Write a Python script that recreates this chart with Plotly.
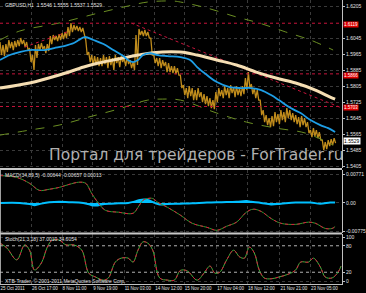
import plotly.graph_objects as go

# ---------------- data ----------------
date_ticks = [0, 32, 63, 94, 126, 157, 187, 220, 251, 284, 315]
date_labels = ["25 Oct 2011", "26 Oct 17:00", "8 Nov 11:00", "9 Nov 19:00", "11 Nov 03:00",
               "14 Nov 12:00", "15 Nov 20:00", "17 Nov 04:00", "18 Nov 12:00", "21 Nov 21:00",
               "23 Nov 05:00"]

# price bars (one every 3 bars, starting at bar 0)
candle_high = [1.6025, 1.6010, 1.6015, 1.6035, 1.6025, 1.6030, 1.6035, 1.6045, 1.6035, 1.6025,
               1.5995, 1.5960, 1.6010, 1.6015, 1.6020, 1.6005, 1.6015, 1.6055, 1.6060, 1.6055,
               1.6065, 1.6070, 1.6075, 1.6100, 1.6120, 1.6110, 1.6105, 1.6100, 1.6095, 1.6035,
               1.5975, 1.5960, 1.5955, 1.5950, 1.5945, 1.5960, 1.5950, 1.5955, 1.5945, 1.5960,
               1.5950, 1.5955, 1.5945, 1.5950, 1.5935, 1.5925, 1.6060, 1.6090, 1.6080, 1.6085,
               1.6075, 1.6045, 1.5960, 1.5945, 1.5945, 1.5935, 1.5925, 1.5920, 1.5905, 1.5905,
               1.5895, 1.5860, 1.5810, 1.5795, 1.5805, 1.5795, 1.5785, 1.5795, 1.5775, 1.5765,
               1.5755, 1.5745, 1.5735, 1.5775, 1.5795, 1.5785, 1.5805, 1.5795, 1.5810, 1.5800,
               1.5805, 1.5795, 1.5805, 1.5845, 1.5875, 1.5815, 1.5795, 1.5785, 1.5735, 1.5685,
               1.5660, 1.5645, 1.5655, 1.5675, 1.5665, 1.5685, 1.5675, 1.5695, 1.5685, 1.5670,
               1.5660, 1.5650, 1.5655, 1.5645, 1.5625, 1.5585, 1.5595, 1.5585, 1.5575, 1.5535,
               1.5525, 1.5535, 1.5540, 1.5545]
candle_low = [1.5960, 1.5955, 1.5975, 1.5995, 1.5985, 1.6000, 1.6005, 1.6015, 1.6000, 1.5985,
              1.5925, 1.5885, 1.5945, 1.5985, 1.5990, 1.5970, 1.5980, 1.6015, 1.6035, 1.6030,
              1.6035, 1.6040, 1.6045, 1.6055, 1.6075, 1.6085, 1.6080, 1.6075, 1.6060, 1.5960,
              1.5925, 1.5910, 1.5910, 1.5905, 1.5905, 1.5915, 1.5895, 1.5910, 1.5885, 1.5920,
              1.5900, 1.5925, 1.5905, 1.5915, 1.5895, 1.5885, 1.5910, 1.6060, 1.6055, 1.6055,
              1.6045, 1.5960, 1.5920, 1.5905, 1.5895, 1.5905, 1.5875, 1.5875, 1.5870, 1.5865,
              1.5860, 1.5795, 1.5760, 1.5745, 1.5755, 1.5735, 1.5735, 1.5750, 1.5725, 1.5715,
              1.5705, 1.5695, 1.5690, 1.5725, 1.5755, 1.5745, 1.5760, 1.5745, 1.5770, 1.5750,
              1.5760, 1.5755, 1.5765, 1.5785, 1.5795, 1.5765, 1.5745, 1.5735, 1.5660, 1.5625,
              1.5610, 1.5600, 1.5605, 1.5625, 1.5615, 1.5635, 1.5625, 1.5645, 1.5635, 1.5625,
              1.5615, 1.5600, 1.5610, 1.5600, 1.5570, 1.5550, 1.5555, 1.5545, 1.5535, 1.5485,
              1.5490, 1.5505, 1.5510, 1.5520]

ma_fast_x = [0, 10, 20, 30, 45, 55, 65, 75, 80, 86, 95, 105, 115, 125, 130, 135, 140, 145, 152,
             160, 170, 183, 193, 200, 210, 220, 233, 245, 255, 265, 275, 283, 295, 305, 315, 325,
             333, 340]
ma_fast = [1.5935, 1.5960, 1.5975, 1.5985, 1.5985, 1.5995, 1.6005, 1.6020, 1.6035, 1.6050,
           1.6035, 1.6015, 1.5985, 1.5955, 1.5935, 1.5925, 1.5935, 1.5960, 1.5970, 1.5960,
           1.5955, 1.5950, 1.5935, 1.5900, 1.5860, 1.5825, 1.5800, 1.5795, 1.5795, 1.5785,
           1.5760, 1.5735, 1.5695, 1.5670, 1.5635, 1.5610, 1.5595, 1.5575]

ma_slow_x = [0, 30, 60, 85, 100, 120, 140, 155, 183, 200, 220, 240, 260, 280, 300, 320, 335, 340]
ma_slow = [1.5795, 1.5820, 1.5860, 1.5900, 1.5920, 1.5940, 1.5960, 1.5972, 1.5975, 1.5960,
           1.5935, 1.5910, 1.5875, 1.5845, 1.5820, 1.5785, 1.5750, 1.5740]

band_up_x = [0, 20, 60, 100, 130, 150, 175, 183, 210, 240, 263, 290, 315, 338]
band_up = [1.6035, 1.6080, 1.6120, 1.6170, 1.6205, 1.6225, 1.6230, 1.6225, 1.6195, 1.6150,
           1.6120, 1.6075, 1.6035, 1.5985]
band_dn_x = [0, 30, 60, 90, 120, 150, 165, 183, 220, 250, 280, 310, 338]
band_dn = [1.5560, 1.5585, 1.5610, 1.5650, 1.5690, 1.5735, 1.5740, 1.5735, 1.5670, 1.5625,
           1.5595, 1.5570, 1.5510]

level_prices = [1.6119, 1.5866, 1.5703]
trend_down_x = [133, 347]
trend_down = [1.6120, 1.5695]
trend_up_x = [25, 68]
trend_up = [1.6000, 1.6075]
last_price = 1.5529
# price scale labels (1.6125 is hidden under the red 1.6119 label in the reference)
price_ticks = [1.6205, 1.6045, 1.5965, 1.5885, 1.5805, 1.5725, 1.5645, 1.5565, 1.5485, 1.5405]

macd_x = [0, 17, 30, 40, 50, 60, 70, 80, 87, 93, 100, 107, 120, 135, 140, 145, 150, 155, 160,
          170, 183, 195, 210, 220, 230, 240, 250, 257, 265, 275, 285, 300, 313, 320, 330, 337, 340]
macd_main = [0.0074, 0.0069, 0.0053, 0.0034, 0.0037, 0.0042, 0.0050, 0.0056, 0.0053, 0.0026,
             -0.0001, -0.0020, -0.0025, -0.0028, -0.0012, 0.0007, 0.0012, 0.0012, 0.0002,
             -0.0012, -0.0033, -0.0055, -0.0066, -0.0074, -0.0063, -0.0052, -0.0025, -0.0017,
             -0.0023, -0.0042, -0.0055, -0.0058, -0.0052, -0.0055, -0.0069, -0.0069, -0.0064]
hist_x = [0, 20, 30, 35, 40, 50, 60, 70, 80, 88, 93, 98, 103, 110, 120, 130, 137, 142, 147, 152,
          157, 162, 170, 183, 195, 210, 225, 240, 250, 255, 265, 275, 285, 300, 315, 325, 335, 340]
hist_vals = [0.0, 0.0, -0.0003, -0.0006, -0.0003, 0.0002, 0.0003, 0.0002, 0.0001, -0.0002,
             -0.0006, -0.0007, -0.0004, -0.0002, -0.0001, 0.0, 0.0004, 0.0008, 0.0009, 0.0006,
             0.0, -0.0004, -0.0003, -0.0002, -0.0001, 0.0001, 0.0002, 0.0003, 0.0005, 0.0003,
             0.0, -0.0004, -0.0002, 0.0001, 0.0001, -0.0002, 0.0001, 0.0001]
macd_ticks = [0.00771, 0.0, -0.00775]
macd_tick_text = ["0.00771", "0.00", "-0.00775"]

stoch_x = [0, 7, 17, 25, 30, 35, 42, 48, 53, 60, 67, 75, 83, 90, 97, 105, 110, 117, 123, 130,
           135, 140, 145, 150, 155, 162, 170, 177, 183, 190, 200, 207, 213, 218, 223, 230, 237,
           243, 248, 253, 258, 263, 268, 275, 283, 293, 300, 305, 313, 318, 325, 330, 337, 343, 346]
stoch_vals = [86, 75, 48, 82, 70, 25, 41, 77, 93, 93, 82, 82, 70, 18, 9, 2, 7, 43, 52, 52,
              43, 70, 89, 86, 70, 7, 2, 2, 24, 23, 2, 18, 34, 18, 20, 48, 70,
              55, 52, 77, 64, 25, 7, 5, 9, 16, 25, 43, 43, 52, 32, 9, 7, 20, 34]
stoch_levels = [20, 80]
stoch_ticks = [100, 80, 20, 0]

# ---------------- figure ----------------
GOLD = "#c08c1c"
fig = go.Figure()

# candles drawn as a zig-zag between each bar's high and low (dense band like the terminal)
zig = []
for h, l in zip(candle_high, candle_low):
    zig.extend([h, l])
fig.add_trace(go.Scatter(x0=0, dx=1.5, y=zig, mode="lines", line=dict(color=GOLD, width=1.3),
                         xaxis="x3", yaxis="y", showlegend=False))

fig.add_trace(go.Scatter(x=band_up_x, y=band_up, mode="lines", line=dict(color="#6b8e23", width=1, dash="dash", shape="spline"),
                         xaxis="x3", yaxis="y", showlegend=False))
fig.add_trace(go.Scatter(x=band_dn_x, y=band_dn, mode="lines", line=dict(color="#6b8e23", width=1, dash="dash", shape="spline"),
                         xaxis="x3", yaxis="y", showlegend=False))
for lv in level_prices:
    fig.add_trace(go.Scatter(x=[0, 347], y=[lv, lv], mode="lines", line=dict(color="#c8143c", width=1, dash="dot"),
                             xaxis="x3", yaxis="y", showlegend=False))
fig.add_trace(go.Scatter(x=trend_down_x, y=trend_down, mode="lines", line=dict(color="#c8143c", width=1, dash="dot"),
                         xaxis="x3", yaxis="y", showlegend=False))
fig.add_trace(go.Scatter(x=trend_up_x, y=trend_up, mode="lines", line=dict(color="#c8143c", width=1, dash="dot"),
                         xaxis="x3", yaxis="y", showlegend=False))
fig.add_trace(go.Scatter(x=ma_slow_x, y=ma_slow, mode="lines", line=dict(color="#f5deb3", width=3, shape="spline"),
                         xaxis="x3", yaxis="y", showlegend=False))
fig.add_trace(go.Scatter(x=ma_fast_x, y=ma_fast, mode="lines", line=dict(color="#1e9ee6", width=1.8, shape="spline"),
                         xaxis="x3", yaxis="y", showlegend=False))

# MACD
fig.add_trace(go.Scatter(x=hist_x, y=hist_vals, mode="lines", fill="tozeroy", fillcolor="#00bfff",
                         line=dict(color="#00bfff", width=2, shape="spline"),
                         xaxis="x2", yaxis="y2", showlegend=False))
fig.add_trace(go.Scatter(x=macd_x, y=macd_main, mode="lines", line=dict(color="#2e9b2e", width=1, shape="spline"),
                         xaxis="x2", yaxis="y2", showlegend=False))
fig.add_trace(go.Scatter(x=macd_x, y=macd_main, mode="lines", line=dict(color="#dc143c", width=1, dash="dot", shape="spline"),
                         xaxis="x2", yaxis="y2", showlegend=False))

# Stochastic
for lv in stoch_levels:
    fig.add_trace(go.Scatter(x=[0, 347], y=[lv, lv], mode="lines", line=dict(color="#a0a0a0", width=1, dash="dot"),
                             xaxis="x", yaxis="y3", showlegend=False))
fig.add_trace(go.Scatter(x=stoch_x, y=stoch_vals, mode="lines", line=dict(color="#3cb43c", width=1, shape="spline"),
                         xaxis="x", yaxis="y3", showlegend=False))
fig.add_trace(go.Scatter(x=stoch_x, y=stoch_vals, mode="lines", line=dict(color="#dc143c", width=1, dash="dot", shape="spline"),
                         xaxis="x", yaxis="y3", showlegend=False))

FAM = "Liberation Sans, Arial, sans-serif"
TF = dict(family=FAM, size=5, color="#e0e0e0")
XTF = dict(family=FAM, size=4.5, color="#e0e0e0")
grid = dict(showgrid=True, gridcolor="#3a3a3a", griddash="dot", gridwidth=1, zeroline=False)
xcommon = dict(range=[0, 347], tickvals=date_ticks, ticktext=date_labels, ticks="", tickangle=0, **grid)
ycommon = dict(side="right", ticks="outside", ticklen=2, tickcolor="#c0c0c0", tickfont=TF,
               showline=True, linecolor="#c0c0c0", linewidth=1, **grid)

fig.update_layout(
    width=366, height=293,
    margin=dict(l=0, r=19, t=0, b=9),
    paper_bgcolor="#000000", plot_bgcolor="#000000",
    showlegend=False,
    xaxis=dict(domain=[0, 1], anchor="y3", showticklabels=True, tickfont=XTF,
               ticklabelposition="outside right", showline=True, linecolor="#c0c0c0", **xcommon),
    xaxis2=dict(domain=[0, 1], anchor="y2", matches="x", showticklabels=False, **xcommon),
    xaxis3=dict(domain=[0, 1], anchor="y", matches="x", showticklabels=False, **xcommon),
    yaxis=dict(domain=[0.408, 1.0], anchor="x3", range=[1.5395, 1.6235], tickvals=price_ticks,
               tickformat=".4f", **ycommon),
    yaxis2=dict(domain=[0.18, 0.40], anchor="x2", range=[-0.0081, 0.0088], tickvals=macd_ticks,
                ticktext=macd_tick_text, **ycommon),
    yaxis3=dict(domain=[0, 0.176], anchor="x", range=[-6.8, 106.8], tickvals=stoch_ticks, **ycommon),
)

# frame / separators
for yy in [0.405, 0.178]:
    fig.add_shape(type="line", xref="paper", yref="paper", x0=0, x1=1, y0=yy, y1=yy,
                  line=dict(color="#c8c8c8", width=2))
fig.add_shape(type="line", xref="paper", yref="paper", x0=0.001, x1=0.001, y0=0, y1=0.405,
              line=dict(color="#c0c0c0", width=1))

# price labels on the right (nudged slightly so they don't cover the neighbouring scale labels)
for lv in level_prices:
    fig.add_annotation(x=1, xref="paper", y=lv, yref="y", xanchor="left", xshift=1, yshift=-1.5,
                       showarrow=False, text=f"{lv:.4f}", font=dict(family=FAM, size=4.5, color="#ffffff"),
                       bgcolor="#e00000", borderpad=0)
fig.add_annotation(x=1, xref="paper", y=last_price, yref="y", xanchor="left", xshift=1, showarrow=False,
                   text=f"{last_price:.4f}", font=dict(family=FAM, size=5, color="#000000"),
                   bgcolor="#ffffff", borderpad=0)

# texts
def txt(x, y, s, size=5, color="#e0e0e0", xanchor="left", family=FAM):
    fig.add_annotation(x=x, y=y, xref="paper", yref="paper", xanchor=xanchor, yanchor="middle",
                       showarrow=False, text=s, font=dict(family=family, size=size, color=color))

txt(0.008, 0.983, "GBPUSD,H1  1.5546 1.5555 1.5537 1.5529")
txt(0.008, 0.384, "MACD(34,89,5) -0.00644 -0.00657 0.00013")
txt(0.008, 0.158, "Stoch(21,3,18) 37.0010 34.6054")
txt(0.008, 0.011, "XTB-Trader, © 2001-2011 MetaQuotes Software Corp.")
txt(0.575, 0.455, "Портал для трейдеров - ForTrader.ru", size=15.5, color="#b0b0b0",
    xanchor="center", family="DejaVu Sans, sans-serif")

fig.write_html("out.html")
